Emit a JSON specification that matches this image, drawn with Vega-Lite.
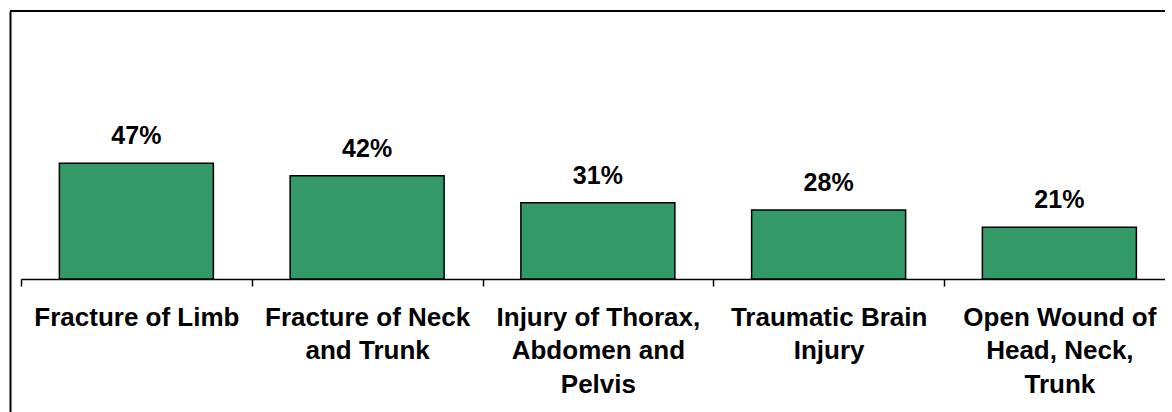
{
  "$schema": "https://vega.github.io/schema/vega-lite/v6.json",
  "autosize": "none",
  "padding": {"left": 10, "top": 11, "right": 0, "bottom": 0},
  "width": 1155,
  "height": 401,
  "background": "white",
  "config": {"view": {"stroke": null}},
  "datasets": {
    "injuries": [
      {"injury": "Fracture of Limb", "share": 0.47},
      {"injury": "Fracture of Neck and Trunk", "share": 0.42},
      {"injury": "Injury of Thorax, Abdomen and Pelvis", "share": 0.31},
      {"injury": "Traumatic Brain Injury", "share": 0.28},
      {"injury": "Open Wound of Head, Neck, Trunk", "share": 0.21}
    ],
    "frame": [{"top": 1.0894}]
  },
  "layer": [
    {
      "data": {"name": "injuries"},
      "encoding": {
        "x": {
          "field": "injury", "type": "nominal", "sort": null,
          "scale": {"range": [11, 1164.75], "paddingInner": 0, "paddingOuter": 0},
          "axis": {
            "title": null, "orient": "bottom", "offset": -133, "grid": false,
            "labelAngle": 0, "tickBand": "extent", "tickExtra": false, "tickSize": 7, "tickColor": "#000", "tickWidth": 1.5,
            "domainColor": "#000", "domainWidth": 1.5,
            "labelFont": "Liberation Sans", "labelFontWeight": "bold", "labelFontSize": 26, "labelColor": "#000",
            "labelPadding": 18, "labelLineHeight": 33.5, "labelLimit": 0, "labelOverlap": false, "labelFlush": false, "labelBound": false,
            "labelExpr": "datum.value == 'Fracture of Neck and Trunk' ? ['Fracture of Neck', 'and Trunk'] : datum.value == 'Injury of Thorax, Abdomen and Pelvis' ? ['Injury of Thorax,', 'Abdomen and', 'Pelvis'] : datum.value == 'Traumatic Brain Injury' ? ['Traumatic Brain', 'Injury'] : datum.value == 'Open Wound of Head, Neck, Trunk' ? ['Open Wound of', 'Head, Neck,', 'Trunk'] : datum.value"
          }
        },
        "y": {
          "field": "share", "type": "quantitative",
          "scale": {"domain": [-0.5407, 1.0894], "nice": false, "zero": false},
          "axis": {"title": null, "labels": false, "ticks": false, "grid": false, "domain": true, "domainColor": "#000", "domainWidth": 2}
        }
      },
      "layer": [
        {
          "mark": {"type": "bar", "width": {"band": 0.6674}, "fill": "#339966", "stroke": "#000", "strokeWidth": 1.5},
          "encoding": {"y2": {"datum": 0}}
        },
        {
          "mark": {"type": "text", "baseline": "alphabetic", "dy": -19, "font": "Liberation Sans", "fontWeight": "bold", "fontSize": 25, "color": "#000"},
          "encoding": {"text": {"field": "share", "type": "quantitative", "format": ".0%"}}
        }
      ]
    },
    {
      "data": {"name": "frame"},
      "mark": {"type": "rule", "color": "#000", "strokeWidth": 2},
      "encoding": {"y": {"field": "top", "type": "quantitative"}}
    }
  ]
}
